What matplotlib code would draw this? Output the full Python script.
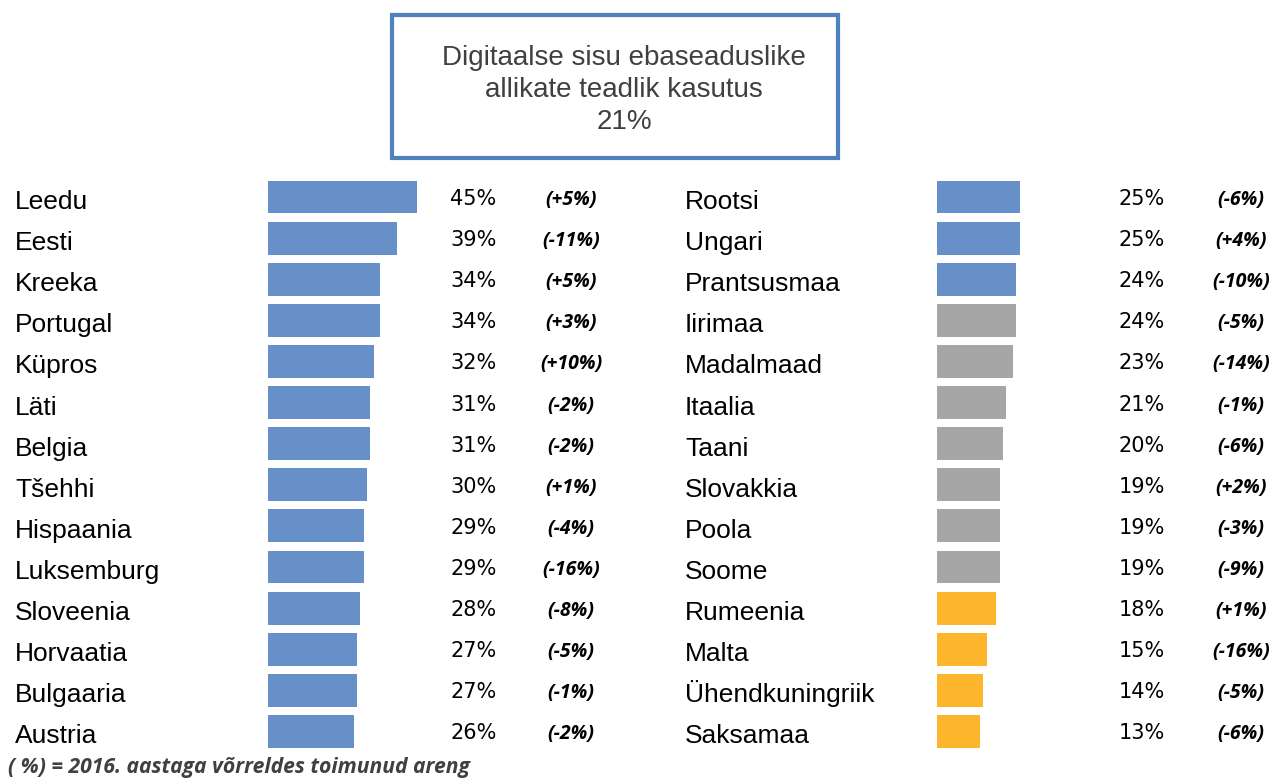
import matplotlib.pyplot as plt
from matplotlib import transforms
from matplotlib.patches import Rectangle

# data
left_names = ['Leedu', 'Eesti', 'Kreeka', 'Portugal', 'Küpros', 'Läti', 'Belgia',
              'Tšehhi', 'Hispaania', 'Luksemburg', 'Sloveenia', 'Horvaatia',
              'Bulgaaria', 'Austria']
left_values = [45, 39, 34, 34, 32, 31, 31, 30, 29, 29, 28, 27, 27, 26]
left_change = ['+5%', '-11%', '+5%', '+3%', '+10%', '-2%', '-2%', '+1%', '-4%',
               '-16%', '-8%', '-5%', '-1%', '-2%']
left_group = ['blue'] * 14

right_names = ['Rootsi', 'Ungari', 'Prantsusmaa', 'Iirimaa', 'Madalmaad', 'Itaalia',
               'Taani', 'Slovakkia', 'Poola', 'Soome', 'Rumeenia', 'Malta',
               'Ühendkuningriik', 'Saksamaa']
right_values = [25, 25, 24, 24, 23, 21, 20, 19, 19, 19, 18, 15, 14, 13]
right_change = ['-6%', '+4%', '-10%', '-5%', '-14%', '-1%', '-6%', '+2%', '-3%',
                '-9%', '+1%', '-16%', '-5%', '-6%']
right_group = ['blue'] * 3 + ['gray'] * 7 + ['orange'] * 4

title_lines = ['Digitaalse sisu ebaseaduslike', 'allikate teadlik kasutus', '21%']
footnote = '( %) = 2016. aastaga võrreldes toimunud areng'

colors = {'blue': '#6790C8', 'gray': '#A6A6A6', 'orange': '#FDB52B'}

W, H = 1275, 779
fig = plt.figure(figsize=(W / 100, H / 100), dpi=100)

label_font = ['Liberation Sans Narrow', 'Liberation Sans', 'DejaVu Sans']
num_font = ['DejaVu Sans']
chg_font = ['Open Sans', 'DejaVu Sans']

# axes extents in pixels (top of row 0 to bottom of row 13)
y_top, y_bot = 176.5, 752.0
px_per_pct = 3.3
xmax = 60


def draw_column(names, values, changes, groups, bar_x0, label_x, value_x, change_x):
    width_px = px_per_pct * xmax
    ax = fig.add_axes([bar_x0 / W, 1 - y_bot / H, width_px / W, (y_bot - y_top) / H])
    n = len(names)
    ax.barh(range(n), values, height=0.8, color=[colors[g] for g in groups])
    ax.set_xlim(0, xmax)
    ax.set_ylim(n - 0.5, -0.5)
    ax.axis('off')
    tr = transforms.blended_transform_factory(fig.transFigure, ax.transData)
    tr_lab = transforms.offset_copy(tr, fig=fig, y=-12, units='dots')
    tr_val = transforms.offset_copy(tr, fig=fig, y=-8, units='dots')
    tr_chg = transforms.offset_copy(tr, fig=fig, y=-8, units='dots')
    for i in range(n):
        ax.text(label_x / W, i, names[i], transform=tr_lab, ha='left', va='baseline',
                fontsize=19, family=label_font, color='black')
        ax.text(value_x / W, i, f'{values[i]}%', transform=tr_val, ha='left',
                va='baseline', fontsize=15, family=num_font, color='black')
        ax.text(change_x / W, i, f'({changes[i]})', transform=tr_chg, ha='center',
                va='baseline', fontsize=14, family=chg_font, fontweight='bold',
                fontstyle='italic', color='black')


draw_column(left_names, left_values, left_change, left_group, 268, 15, 450, 571)
draw_column(right_names, right_values, right_change, right_group, 937, 685, 1119, 1241)

# title box
box = Rectangle((392 / W, 1 - 158 / H), 446 / W, 143 / H, transform=fig.transFigure,
                facecolor='white', edgecolor='#4F81BD', linewidth=3)
fig.patches.append(box)
fig.text(624 / W, 1 - 90 / H, '\n'.join(title_lines), ha='center', va='center',
         fontsize=20, family=['Liberation Sans'], color='#404040', linespacing=1.28)

fig.text(8 / W, 1 - 768 / H, footnote, ha='left', va='center', fontsize=15.2,
         family=chg_font, fontweight='bold', fontstyle='italic', color='#404040')

fig.savefig('out.png', dpi=100)
